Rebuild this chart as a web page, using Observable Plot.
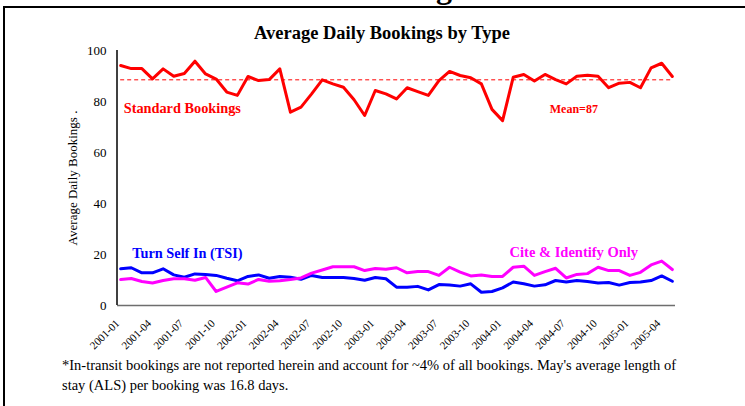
<!DOCTYPE html>
<html><head><meta charset="utf-8">
<script src="https://cdn.jsdelivr.net/npm/d3@7"></script>
<script src="https://cdn.jsdelivr.net/npm/@observablehq/plot@0.6"></script>
<style>
html,body{margin:0;padding:0;background:#fff;}
body{width:745px;height:406px;overflow:hidden;position:relative;font-family:"Liberation Serif","Times New Roman",serif;}
#bighead{position:absolute;left:0;width:745px;top:-29px;text-align:center;font-size:32px;line-height:32px;font-weight:bold;white-space:nowrap;}
#frame{position:absolute;left:3px;top:6px;width:800px;height:460px;border-top:2px solid #000;border-left:2px solid #000;}
#title{position:absolute;left:0;width:764px;top:22px;text-align:center;font-size:18.5px;line-height:22px;font-weight:bold;white-space:nowrap;}
#chart{position:absolute;left:0;top:0;}
#note{position:absolute;left:62px;top:355px;font-size:14.5px;line-height:20px;white-space:nowrap;color:#000;}
</style>
</head><body>
<div id="bighead">Jail Bookings</div>
<div id="frame"></div>
<div id="chart"></div>
<div id="title">Average Daily Bookings by Type</div>
<div id="note">*In-transit bookings are not reported herein and account for ~4% of all bookings. May's average length of<br>stay (ALS) per booking was 16.8 days.</div>
<script>
// ---- data ----
const months = [
 "2001-01","2001-02","2001-03","2001-04","2001-05","2001-06","2001-07","2001-08","2001-09","2001-10","2001-11","2001-12",
 "2002-01","2002-02","2002-03","2002-04","2002-05","2002-06","2002-07","2002-08","2002-09","2002-10","2002-11","2002-12",
 "2003-01","2003-02","2003-03","2003-04","2003-05","2003-06","2003-07","2003-08","2003-09","2003-10","2003-11","2003-12",
 "2004-01","2004-02","2004-03","2004-04","2004-05","2004-06","2004-07","2004-08","2004-09","2004-10","2004-11","2004-12",
 "2005-01","2005-02","2005-03","2005-04","2005-05"];
const tickLabels = ["2001-01","2001-04","2001-07","2001-10","2002-01","2002-04","2002-07","2002-10","2003-01",
 "2003-04","2003-07","2003-10","2004-01","2004-04","2004-07","2004-10","2005-01","2005-04"];
const standard = [94.1,92.9,92.9,88.9,92.8,89.9,91.0,95.8,90.8,88.8,
 83.7,82.4,89.8,88.2,88.6,92.8,75.8,77.8,83.0,88.5,
 86.9,85.6,80.7,74.5,84.3,83.0,81.0,85.4,83.9,82.4,
 88.2,91.8,90.2,89.3,86.9,76.9,72.5,89.5,90.6,88.0,
 90.6,88.6,86.9,89.9,90.3,89.9,85.4,87.2,87.5,85.4,
 93.2,95.0,89.8];
const tsi = [14.4,14.8,12.8,12.8,14.4,12.0,11.1,12.4,12.2,11.8,
 10.7,9.7,11.4,12.0,10.7,11.4,11.1,10.3,11.8,11.0,
 11.0,11.0,10.6,9.9,11.0,10.5,7.2,7.2,7.5,6.1,
 8.2,8.0,7.6,8.5,5.2,5.5,6.9,9.2,8.5,7.6,
 8.1,9.8,9.2,9.8,9.4,8.8,9.0,8.0,9.0,9.2,
 9.8,11.6,9.5];
const cite = [10.2,10.6,9.4,8.8,9.8,10.5,10.5,9.9,11.0,5.5,
 7.2,8.9,8.4,10.2,9.5,9.7,10.2,10.8,12.7,13.9,
 15.2,15.2,15.2,13.7,14.5,14.2,14.8,12.8,13.3,13.3,
 11.8,15.0,13.1,11.6,12.0,11.4,11.4,15.0,15.4,11.8,
 13.3,14.6,10.8,12.2,12.5,15.0,13.7,13.7,11.8,13.0,
 15.9,17.4,14.1];
const yTicks = [0,20,40,60,80,100];
const meanLineLevel = 88.5;
const meanLabel = "Mean=87";
const yLabel = "Average Daily Bookings .";

const RED = "#ff0000", BLUE = "#0000ff", MAG = "#ff00ff";
const font = "'Liberation Serif', 'Times New Roman', serif";

const yAxisLine = (index, scales, values, dims) => {
  const g = d3.create("svg:g");
  g.append("line")
    .attr("x1", dims.marginLeft).attr("x2", dims.marginLeft)
    .attr("y1", scales.y(100)).attr("y2", scales.y(0))
    .attr("stroke", "#000").attr("stroke-width", 1.5);
  return g.node();
};

const chart = Plot.plot({
  width: 745, height: 355,
  marginLeft: 117, marginRight: 70, marginTop: 50, marginBottom: 50,
  style: {fontFamily: font, background: "transparent", color: "#000"},
  x: {type: "point", domain: months, padding: 0.3},
  y: {domain: [0, 100]},
  marks: [
    Plot.axisY({ticks: yTicks, tickSize: 0, tickPadding: 11, fontSize: 13, label: null}),
    Plot.axisX({ticks: tickLabels, tickRotate: -45, tickSize: 0, tickPadding: 16, dx: -3, fontSize: 11, label: null}),
    Plot.text([yLabel], {frameAnchor: "left", textAnchor: "middle", rotate: -90, dx: -45, fontSize: 13, fill: "#000"}),
    Plot.ruleY([0], {stroke: "#6e6e6e", strokeWidth: 1.5}),
    yAxisLine,
    Plot.ruleY([{y: meanLineLevel, x1: months[0], x2: months[months.length - 1]}],
      {y: "y", x1: "x1", x2: "x2", stroke: RED, strokeWidth: 1, strokeDasharray: "4,3"}),
    Plot.lineY(standard, {x: months, y: d => d, stroke: RED, strokeWidth: 3}),
    Plot.lineY(tsi, {x: months, y: d => d, stroke: BLUE, strokeWidth: 3}),
    Plot.lineY(cite, {x: months, y: d => d, stroke: MAG, strokeWidth: 3}),
    Plot.text([{t: "Standard Bookings", m: months[0], v: 77.3}],
      {x: "m", y: "v", text: "t", textAnchor: "start", dx: 3, fill: RED, fontWeight: "bold", fontSize: 14.3}),
    Plot.text([{t: meanLabel, m: months[43], v: 76.9}],
      {x: "m", y: "v", text: "t", dx: -3, fill: RED, fontWeight: "bold", fontSize: 12}),
    Plot.text([{t: "Turn Self In (TSI)", m: months[1], v: 20.4}],
      {x: "m", y: "v", text: "t", textAnchor: "start", dx: 1, fill: BLUE, fontWeight: "bold", fontSize: 14.3}),
    Plot.text([{t: "Cite & Identify Only", m: months[43], v: 20.8}],
      {x: "m", y: "v", text: "t", dx: -3, fill: MAG, fontWeight: "bold", fontSize: 14.5})
  ]
});
document.getElementById("chart").appendChild(chart);
</script>
</body></html>
